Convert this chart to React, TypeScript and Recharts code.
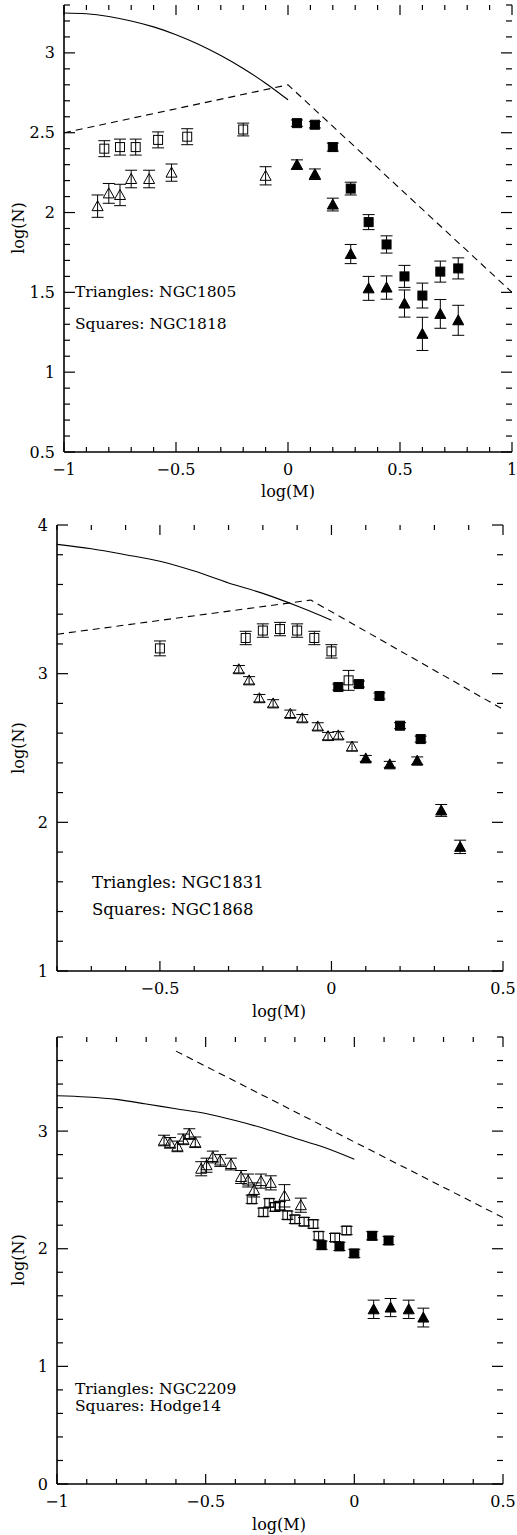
import { ComposedChart, ErrorBar, Line, Scatter, XAxis, YAxis } from 'recharts'

const FONT = '"DejaVu Serif", serif'

// ---- panel 1: NGC1805 / NGC1818 ----
const p1OpenSqX = [-0.82, -0.75, -0.68, -0.58, -0.45, -0.2]
const p1OpenSqY = [2.4, 2.41, 2.41, 2.455, 2.475, 2.52]
const p1OpenSqE = [0.05, 0.05, 0.05, 0.05, 0.05, 0.04]
const p1OpenTriX = [-0.85, -0.8, -0.75, -0.7, -0.62, -0.52, -0.1]
const p1OpenTriY = [2.04, 2.12, 2.11, 2.21, 2.21, 2.25, 2.23]
const p1OpenTriE = [0.07, 0.062, 0.067, 0.055, 0.055, 0.054, 0.057]
const p1FillX = [0.04, 0.12, 0.2, 0.28, 0.36, 0.44, 0.52, 0.6, 0.68, 0.76]
const p1FillSqY = [2.56, 2.55, 2.41, 2.15, 1.94, 1.8, 1.6, 1.48, 1.63, 1.65]
const p1FillSqE = [0.02, 0.02, 0.025, 0.04, 0.047, 0.054, 0.069, 0.078, 0.066, 0.066]
const p1FillTriY = [2.3, 2.24, 2.05, 1.74, 1.525, 1.53, 1.43, 1.24, 1.365, 1.325]
const p1FillTriE = [0.03, 0.033, 0.04, 0.06, 0.075, 0.073, 0.085, 0.104, 0.09, 0.094]
const p1SolidX = [-1, -0.9, -0.8, -0.7, -0.6, -0.5, -0.4, -0.3, -0.2, -0.1, 0]
const p1SolidY = [3.25, 3.245, 3.228, 3.2, 3.163, 3.114, 3.054, 2.983, 2.902, 2.81, 2.706]
const p1DashX = [-1, 0, 1]
const p1DashY = [2.5, 2.8, 1.5]
const p1XTicks = [-1, -0.9, -0.8, -0.7, -0.6, -0.5, -0.4, -0.3, -0.2, -0.1, 0, 0.1, 0.2, 0.3, 0.4, 0.5, 0.6, 0.7, 0.8, 0.9, 1]
const p1YTicks = [0.5, 0.6, 0.7, 0.8, 0.9, 1, 1.1, 1.2, 1.3, 1.4, 1.5, 1.6, 1.7, 1.8, 1.9, 2, 2.1, 2.2, 2.3, 2.4, 2.5, 2.6, 2.7, 2.8, 2.9, 3, 3.1, 3.2, 3.3]

// ---- panel 2: NGC1831 / NGC1868 ----
const p2OpenSqX = [-0.5, -0.25, -0.2, -0.15, -0.1, -0.05, 0, 0.05]
const p2OpenSqY = [3.17, 3.24, 3.29, 3.3, 3.29, 3.24, 3.15, 2.955]
const p2OpenSqE = [0.05, 0.045, 0.045, 0.045, 0.045, 0.045, 0.045, 0.067]
const p2FillSqX = [0.02, 0.08, 0.14, 0.2, 0.26]
const p2FillSqY = [2.91, 2.93, 2.85, 2.65, 2.56]
const p2FillSqE = [0.02, 0.02, 0.02, 0.02, 0.02]
const p2OpenTriX = [-0.27, -0.24, -0.21, -0.17, -0.12, -0.085, -0.04, -0.01, 0.02, 0.06]
const p2OpenTriY = [3.03, 2.955, 2.835, 2.8, 2.73, 2.7, 2.645, 2.58, 2.585, 2.51]
const p2OpenTriE = [0.025, 0.025, 0.025, 0.025, 0.025, 0.025, 0.025, 0.025, 0.025, 0.03]
const p2FillTriX = [0.1, 0.17, 0.25, 0.32, 0.375]
const p2FillTriY = [2.43, 2.39, 2.415, 2.08, 1.835]
const p2FillTriE = [0.02, 0.02, 0.025, 0.04, 0.045]
const p2SolidX = [-0.8, -0.7, -0.6, -0.5, -0.4, -0.3, -0.2, -0.1, 0]
const p2SolidY = [3.87, 3.84, 3.8, 3.756, 3.69, 3.61, 3.54, 3.455, 3.36]
const p2DashX = [-0.8, -0.06, 0.5]
const p2DashY = [3.265, 3.495, 2.76]
const p2XTicks = [-0.8, -0.7, -0.6, -0.5, -0.4, -0.3, -0.2, -0.1, 0, 0.1, 0.2, 0.3, 0.4, 0.5]
const p2YTicks = [1, 1.2, 1.4, 1.6, 1.8, 2, 2.2, 2.4, 2.6, 2.8, 3, 3.2, 3.4, 3.6, 3.8, 4]

// ---- panel 3: NGC2209 / Hodge14 ----
const p3OpenTriX = [-0.64, -0.62, -0.595, -0.575, -0.555, -0.535, -0.515, -0.497, -0.476, -0.451, -0.415, -0.381, -0.357, -0.337, -0.314, -0.281, -0.235, -0.18]
const p3OpenTriY = [2.92, 2.9, 2.87, 2.93, 2.975, 2.905, 2.68, 2.71, 2.78, 2.75, 2.72, 2.61, 2.58, 2.5, 2.575, 2.56, 2.45, 2.37]
const p3OpenTriE = [0.045, 0.045, 0.045, 0.045, 0.045, 0.045, 0.06, 0.06, 0.05, 0.05, 0.05, 0.055, 0.055, 0.06, 0.06, 0.06, 0.095, 0.06]
const p3OpenSqX = [-0.345, -0.306, -0.286, -0.267, -0.25, -0.225, -0.2, -0.169, -0.138, -0.12, -0.065, -0.026]
const p3OpenSqY = [2.42, 2.31, 2.39, 2.355, 2.365, 2.285, 2.25, 2.23, 2.21, 2.11, 2.095, 2.155]
const p3OpenSqE = [0.035, 0.035, 0.035, 0.035, 0.035, 0.035, 0.035, 0.035, 0.035, 0.035, 0.035, 0.035]
const p3FillSqX = [-0.11, -0.05, 0, 0.06, 0.115]
const p3FillSqY = [2.03, 2.02, 1.96, 2.11, 2.07]
const p3FillSqE = [0.035, 0.035, 0.035, 0.035, 0.035]
const p3FillTriX = [0.065, 0.122, 0.183, 0.232]
const p3FillTriY = [1.485, 1.5, 1.485, 1.415]
const p3FillTriE = [0.078, 0.077, 0.078, 0.08]
const p3SolidX = [-1, -0.9, -0.8, -0.7, -0.6, -0.5, -0.4, -0.3, -0.2, -0.1, 0]
const p3SolidY = [3.3, 3.29, 3.27, 3.23, 3.19, 3.15, 3.09, 3.02, 2.94, 2.86, 2.76]
const p3DashX = [-0.6, 0.5]
const p3DashY = [3.68, 2.265]
const p3XTicks = [-1, -0.9, -0.8, -0.7, -0.6, -0.5, -0.4, -0.3, -0.2, -0.1, 0, 0.1, 0.2, 0.3, 0.4, 0.5]
const p3YTicks = [0, 0.2, 0.4, 0.6, 0.8, 1, 1.2, 1.4, 1.6, 1.8, 2, 2.2, 2.4, 2.6, 2.8, 3, 3.2, 3.4, 3.6, 3.8]

const pts = (xs: number[], ys: number[], es?: number[]) =>
  xs.map((x, i) => ({ x, y: ys[i], e: es ? es[i] : 0 }))

const isMult = (v: number, step: number) => Math.abs(v / step - Math.round(v / step)) < 1e-6
const fmt = (v: number) => (v < 0 ? '\u2212' + String(-v) : String(v))

const OpenSquare = (p: any) => (
  <rect x={p.cx - 4.5} y={p.cy - 4.5} width={9} height={9} fill="none" stroke="#000" strokeWidth={1} />
)
const FilledSquare = (p: any) => (
  <rect x={p.cx - 4.5} y={p.cy - 4.5} width={9} height={9} fill="#000" stroke="#000" strokeWidth={1} />
)
const tri = (cx: number, cy: number) => `${cx - 5.5},${cy + 4.5} ${cx + 5.5},${cy + 4.5} ${cx},${cy - 5.5}`
const OpenTriangle = (p: any) => <polygon points={tri(p.cx, p.cy)} fill="none" stroke="#000" strokeWidth={1} />
const FilledTriangle = (p: any) => <polygon points={tri(p.cx, p.cy)} fill="#000" stroke="#000" strokeWidth={1} />

type P = { x: number; y: number; e: number }

type PanelProps = {
  chartTop: number
  chartHeight: number
  plotLeft: number
  plotRight: number
  plotTop: number
  plotBottom: number
  xDomain: [number, number]
  yDomain: [number, number]
  xTicks: number[]
  yTicks: number[]
  yMajor: number
  solid: P[]
  dash: P[]
  openSq: P[]
  openTri: P[]
  fillSq: P[]
  fillTri: P[]
  notes: { text: string; left: number; top: number }[]
  xTitle: { left: number; top: number }
  yTitle: { left: number; top: number }
  noteSize: number
}

function Panel(props: PanelProps) {
  const { chartTop, chartHeight, plotLeft, plotRight, plotTop, plotBottom } = props
  const XH = 30
  const top = plotTop - chartTop
  const bottom = plotBottom - chartTop
  const margin = { top, right: 517 - plotRight, bottom: chartHeight - bottom - XH, left: 0 }
  const frame = { stroke: '#000', strokeWidth: 1.6 }

  // inward ticks on bottom and top edges, labels below
  const xTick = (t: any) => {
    const v = t.payload.value
    const x = t.x
    const major = isMult(v, 0.5)
    const len = major ? 10 : 5
    return (
      <g>
        <line x1={x} x2={x} y1={bottom} y2={bottom - len} stroke="#000" strokeWidth={1.2} />
        <line x1={x} x2={x} y1={top} y2={top + len} stroke="#000" strokeWidth={1.2} />
        {major && (
          <text x={x} y={bottom + 17} textAnchor="middle" dominantBaseline="central" fontFamily={FONT} fontSize={16} fill="#000">
            {fmt(v)}
          </text>
        )}
      </g>
    )
  }

  // inward ticks on left and right edges, labels on the left
  const yTick = (t: any) => {
    const v = t.payload.value
    const y = t.y
    const major = isMult(v, props.yMajor)
    const len = major ? 11 : 6
    return (
      <g>
        <line x1={plotLeft} x2={plotLeft + len} y1={y} y2={y} stroke="#000" strokeWidth={1.2} />
        <line x1={plotRight} x2={plotRight - len} y1={y} y2={y} stroke="#000" strokeWidth={1.2} />
        {major && (
          <text x={plotLeft - 9} y={y} textAnchor="end" dominantBaseline="central" fontFamily={FONT} fontSize={16} fill="#000">
            {fmt(v)}
          </text>
        )}
      </g>
    )
  }

  const bar = <ErrorBar dataKey="e" direction="y" width={6} stroke="#000" strokeWidth={1} isAnimationActive={false} />

  return (
    <>
      <div style={{ position: 'absolute', left: 0, top: chartTop }}>
        <ComposedChart width={517} height={chartHeight} margin={margin}>
          <XAxis
            type="number"
            dataKey="x"
            domain={props.xDomain}
            ticks={props.xTicks}
            interval={0}
            allowDataOverflow
            axisLine={frame}
            tickLine={false}
            height={XH}
            tick={xTick}
          />
          <XAxis xAxisId="top" orientation="top" type="number" domain={props.xDomain} allowDataOverflow height={0} axisLine={frame} tick={false} tickLine={false} />
          <YAxis
            type="number"
            dataKey="y"
            domain={props.yDomain}
            ticks={props.yTicks}
            interval={0}
            allowDataOverflow
            axisLine={frame}
            tickLine={false}
            width={plotLeft}
            tick={yTick}
          />
          <YAxis yAxisId="right" orientation="right" type="number" domain={props.yDomain} allowDataOverflow width={0} axisLine={frame} tick={false} tickLine={false} />
          <Line data={props.solid} dataKey="y" type="monotone" stroke="#000" strokeWidth={1.1} dot={false} isAnimationActive={false} />
          <Line data={props.dash} dataKey="y" type="linear" stroke="#000" strokeWidth={1.1} strokeDasharray="7 5" dot={false} isAnimationActive={false} />
          <Scatter data={props.openSq} dataKey="y" shape={OpenSquare} isAnimationActive={false}>
            {bar}
          </Scatter>
          <Scatter data={props.openTri} dataKey="y" shape={OpenTriangle} isAnimationActive={false}>
            {bar}
          </Scatter>
          <Scatter data={props.fillSq} dataKey="y" shape={FilledSquare} isAnimationActive={false}>
            {bar}
          </Scatter>
          <Scatter data={props.fillTri} dataKey="y" shape={FilledTriangle} isAnimationActive={false}>
            {bar}
          </Scatter>
        </ComposedChart>
      </div>
      {props.notes.map((n) => (
        <div
          key={n.text}
          style={{ position: 'absolute', left: n.left, top: n.top, fontFamily: FONT, fontSize: props.noteSize, lineHeight: '1', whiteSpace: 'nowrap' }}
        >
          {n.text}
        </div>
      ))}
      <div
        style={{ position: 'absolute', left: props.xTitle.left, top: props.xTitle.top, transform: 'translate(-50%, -50%)', fontFamily: FONT, fontSize: 16, whiteSpace: 'nowrap' }}
      >
        log(M)
      </div>
      <div
        style={{
          position: 'absolute',
          left: props.yTitle.left,
          top: props.yTitle.top,
          transform: 'translate(-50%, -50%) rotate(-90deg)',
          fontFamily: FONT,
          fontSize: 16,
          whiteSpace: 'nowrap',
        }}
      >
        log(N)
      </div>
    </>
  )
}

export default function App() {
  return (
    <div style={{ position: 'absolute', left: 0, top: 0, width: 517, height: 1535, background: '#fff' }}>
      <Panel
        chartTop={0}
        chartHeight={510}
        plotLeft={64}
        plotRight={512}
        plotTop={5}
        plotBottom={452}
        xDomain={[-1, 1]}
        yDomain={[0.5, 3.3]}
        xTicks={p1XTicks}
        yTicks={p1YTicks}
        yMajor={0.5}
        solid={pts(p1SolidX, p1SolidY)}
        dash={pts(p1DashX, p1DashY)}
        openSq={pts(p1OpenSqX, p1OpenSqY, p1OpenSqE)}
        openTri={pts(p1OpenTriX, p1OpenTriY, p1OpenTriE)}
        fillSq={pts(p1FillX, p1FillSqY, p1FillSqE)}
        fillTri={pts(p1FillX, p1FillTriY, p1FillTriE)}
        notes={[
          { text: 'Triangles: NGC1805', left: 75, top: 285 },
          { text: 'Squares: NGC1818', left: 75, top: 317 },
        ]}
        noteSize={15.5}
        xTitle={{ left: 288, top: 491 }}
        yTitle={{ left: 18, top: 228 }}
      />
      <Panel
        chartTop={515}
        chartHeight={520}
        plotLeft={57}
        plotRight={503}
        plotTop={525}
        plotBottom={971}
        xDomain={[-0.8, 0.5]}
        yDomain={[1, 4]}
        xTicks={p2XTicks}
        yTicks={p2YTicks}
        yMajor={1}
        solid={pts(p2SolidX, p2SolidY)}
        dash={pts(p2DashX, p2DashY)}
        openSq={pts(p2OpenSqX, p2OpenSqY, p2OpenSqE)}
        openTri={pts(p2OpenTriX, p2OpenTriY, p2OpenTriE)}
        fillSq={pts(p2FillSqX, p2FillSqY, p2FillSqE)}
        fillTri={pts(p2FillTriX, p2FillTriY, p2FillTriE)}
        notes={[
          { text: 'Triangles: NGC1831', left: 92, top: 875 },
          { text: 'Squares: NGC1868', left: 92, top: 902 },
        ]}
        noteSize={16.5}
        xTitle={{ left: 279, top: 1011 }}
        yTitle={{ left: 18, top: 748 }}
      />
      <Panel
        chartTop={1030}
        chartHeight={505}
        plotLeft={57}
        plotRight={503}
        plotTop={1037}
        plotBottom={1484}
        xDomain={[-1, 0.5]}
        yDomain={[0, 3.8]}
        xTicks={p3XTicks}
        yTicks={p3YTicks}
        yMajor={1}
        solid={pts(p3SolidX, p3SolidY)}
        dash={pts(p3DashX, p3DashY)}
        openSq={pts(p3OpenSqX, p3OpenSqY, p3OpenSqE)}
        openTri={pts(p3OpenTriX, p3OpenTriY, p3OpenTriE)}
        fillSq={pts(p3FillSqX, p3FillSqY, p3FillSqE)}
        fillTri={pts(p3FillTriX, p3FillTriY, p3FillTriE)}
        notes={[
          { text: 'Triangles: NGC2209', left: 75, top: 1382 },
          { text: 'Squares: Hodge14', left: 75, top: 1399 },
        ]}
        noteSize={15.5}
        xTitle={{ left: 279, top: 1524 }}
        yTitle={{ left: 18, top: 1260 }}
      />
    </div>
  )
}
